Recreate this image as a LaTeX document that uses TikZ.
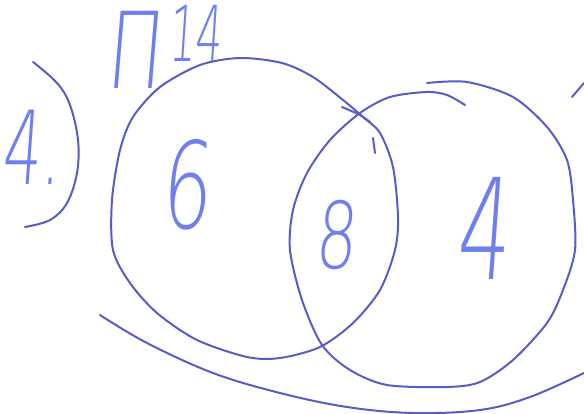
\documentclass[tikz,border=0pt]{standalone}
\usepackage{fontspec}
\newfontfamily\handfont{DejaVu Sans ExtraLight}[FakeSlant=0.12]
\definecolor{penline}{RGB}{88,92,200}
\definecolor{penink}{RGB}{110,128,240}

\begin{document}
\begin{tikzpicture}[x=1pt, y=-1pt, line cap=round, line join=round,
    stroke/.style={draw=penline, line width=2pt},
    hand/.style={text=penink, inner sep=0pt, font=\handfont}]
  % Page frame (pixel coordinates, y downwards).
  \useasboundingbox (0,0) rectangle (584,414);

  % Left set.
  \draw[stroke] plot[smooth cycle, tension=0.5] coordinates {
    (240,58) (200,65) (160,87) (133,117) (120,150)
    (112,200) (113,250) (130,283) (157,313) (197,340) (247,357)
    (280,358) (320,347) (353,323) (380,290) (395,250) (398,217)
    (393,167) (380,133) (363,117) (343,100) (313,77) (282,63)};
  \draw[stroke] plot[smooth] coordinates {(342,107) (360,115) (370,122)};
  \draw[stroke] (373,138) -- (375,153);

  % Right set.
  \draw[stroke] plot[smooth, tension=0.5] coordinates {
    (427,83) (467,82) (513,97) (547,127) (567,160) (573,200) (575,250)
    (563,290) (547,323) (513,360) (480,382) (447,387) (387,385)
    (350,370) (322,345) (302,300) (290,250) (293,210) (307,173)
    (330,140) (360,113) (390,97) (427,92) (447,95) (465,105)};
  \draw[stroke] (572,97) -- (584,83);

  % Outer arcs.
  \draw[stroke] plot[smooth, tension=0.6] coordinates {
    (33,62) (57,83) (70,105) (78,140) (77,173) (67,203) (50,220) (25,227)};
  \draw[stroke] plot[smooth, tension=0.6] coordinates {
    (100,315) (147,343) (213,373) (280,393) (347,407) (413,413)
    (480,410) (530,397) (584,373)};

  % Labels.
  \node[hand, font=\handfont\fontsize{102}{102}\selectfont] (task) at (31,147) {\scalebox{0.6}[1]{4.}};
  \node[hand, font=\handfont\fontsize{106}{106}\selectfont] (pi) at (133,50) {\scalebox{0.7}[1]{П}};
  \node[hand, font=\handfont\fontsize{77}{77}\selectfont] (num) at (195,33) {\scalebox{0.55}[1]{14}};
  \node[hand, font=\handfont\fontsize{120}{120}\selectfont] (left) at (185,185) {\scalebox{0.65}[1]{6}};
  \node[hand, font=\handfont\fontsize{92}{92}\selectfont] (both) at (335,235) {\scalebox{0.7}[1]{8}};
  \node[hand, font=\handfont\fontsize{140}{140}\selectfont] (right) at (482,228) {\scalebox{0.6}[1]{4}};
\end{tikzpicture}
\end{document}
